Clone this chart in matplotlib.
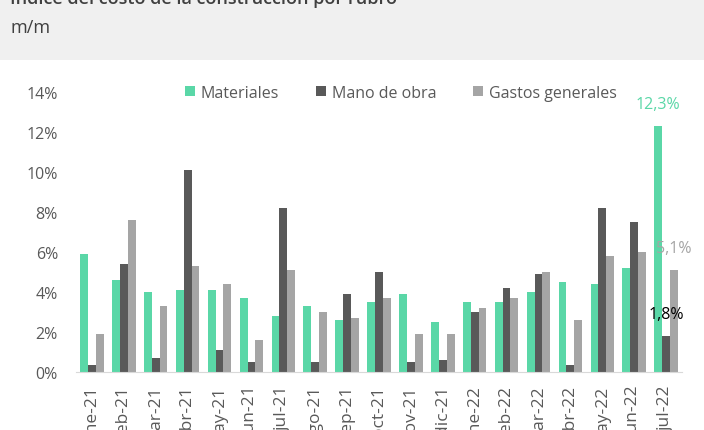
import numpy as np
import matplotlib
matplotlib.use("Agg")
import matplotlib.pyplot as plt
from matplotlib.patches import Rectangle

# months (labels as in the source, rotated under the axis)
meses = ['ene-21', 'feb-21', 'mar-21', 'abr-21', 'may-21', 'jun-21', 'jul-21',
         'ago-21', 'sep-21', 'oct-21', 'nov-21', 'dic-21', 'ene-22', 'feb-22',
         'mar-22', 'abr-22', 'may-22', 'jun-22', 'jul-22']

# monthly variation (%)
materiales = [5.9, 4.6, 4.0, 4.1, 4.1, 3.7, 2.8, 3.3, 2.6, 3.5, 3.9, 2.5,
              3.5, 3.5, 4.0, 4.5, 4.4, 5.2, 12.3]
mano_obra = [0.35, 5.4, 0.7, 10.1, 1.1, 0.5, 8.2, 0.5, 3.9, 5.0, 0.5, 0.6,
             3.0, 4.2, 4.9, 0.35, 8.2, 7.5, 1.8]
gastos = [1.9, 7.6, 3.3, 5.3, 4.4, 1.6, 5.1, 3.0, 2.7, 3.7, 1.9, 1.9,
          3.2, 3.7, 5.0, 2.6, 5.8, 6.0, 5.1]

series = ['Materiales', 'Mano de obra', 'Gastos generales']
colores = ['#5AD7A7', '#595959', '#A5A5A5']

plt.rcParams['font.family'] = ['Open Sans', 'DejaVu Sans']

fig = plt.figure(figsize=(7.04, 4.31), dpi=100)
fig.patch.set_facecolor('white')

# header band
fig.patches.append(Rectangle((0, 1 - 61/431), 1, 61/431, transform=fig.transFigure,
                             facecolor='#F0F0F0', edgecolor='none', zorder=0))
fig.text(10/704, 1 - 4/431, 'Índice del costo de la construcción por rubro',
         fontsize=13, color='#404040', fontweight='semibold', va='baseline')
fig.text(10/704, 1 - 28/431, 'm/m', fontsize=13, color='#404040', va='center')

ax = fig.add_axes([76/704, 1 - 373.3/431, (682 - 76)/704, (373.3 - 92.7)/431])

x = np.arange(len(meses))
w = 0.245
datos = [materiales, mano_obra, gastos]
barras = []
for i, (vals, c, nombre) in enumerate(zip(datos, colores, series)):
    b = ax.bar(x + (i - 1) * w, vals, width=w, color=c, label=nombre, zorder=2)
    barras.append(b)

ax.set_xlim(-0.5, len(meses) - 0.5)
ax.set_ylim(0, 14)
ax.set_yticks(range(0, 15, 2))
ax.set_yticklabels([f'{v}%' for v in range(0, 15, 2)])
ax.set_xticks(x)
ax.set_xticklabels(meses, rotation=90)
ax.tick_params(axis='both', length=0, colors='#595959')
ax.tick_params(axis='y', pad=13, labelsize=11.5)
ax.tick_params(axis='x', pad=9, labelsize=12.5)
for s in ['top', 'right', 'left']:
    ax.spines[s].set_visible(False)
ax.spines['bottom'].set_color('#D9D9D9')

# labels on the last month
ult = len(meses) - 1
etiq_col = ['#5AD7A7', '#000000', '#A5A5A5']
for i, (vals, c) in enumerate(zip(datos, etiq_col)):
    ax.annotate(f'{vals[ult]:.1f}%'.replace('.', ','), (x[ult] + (i - 1) * w, vals[ult]),
                xytext=(0, 10), textcoords='offset points', ha='center', va='bottom',
                fontsize=11.5, color=c, zorder=3)

fig.legend(handles=barras, labels=series, loc='center', ncol=3,
           bbox_to_anchor=(401/704, 1 - 94/431), frameon=False, fontsize=11.5,
           labelcolor='#595959', handlelength=0.6, handleheight=0.6,
           handletextpad=0.4, columnspacing=2.3)

fig.savefig('out.png', dpi=100)
